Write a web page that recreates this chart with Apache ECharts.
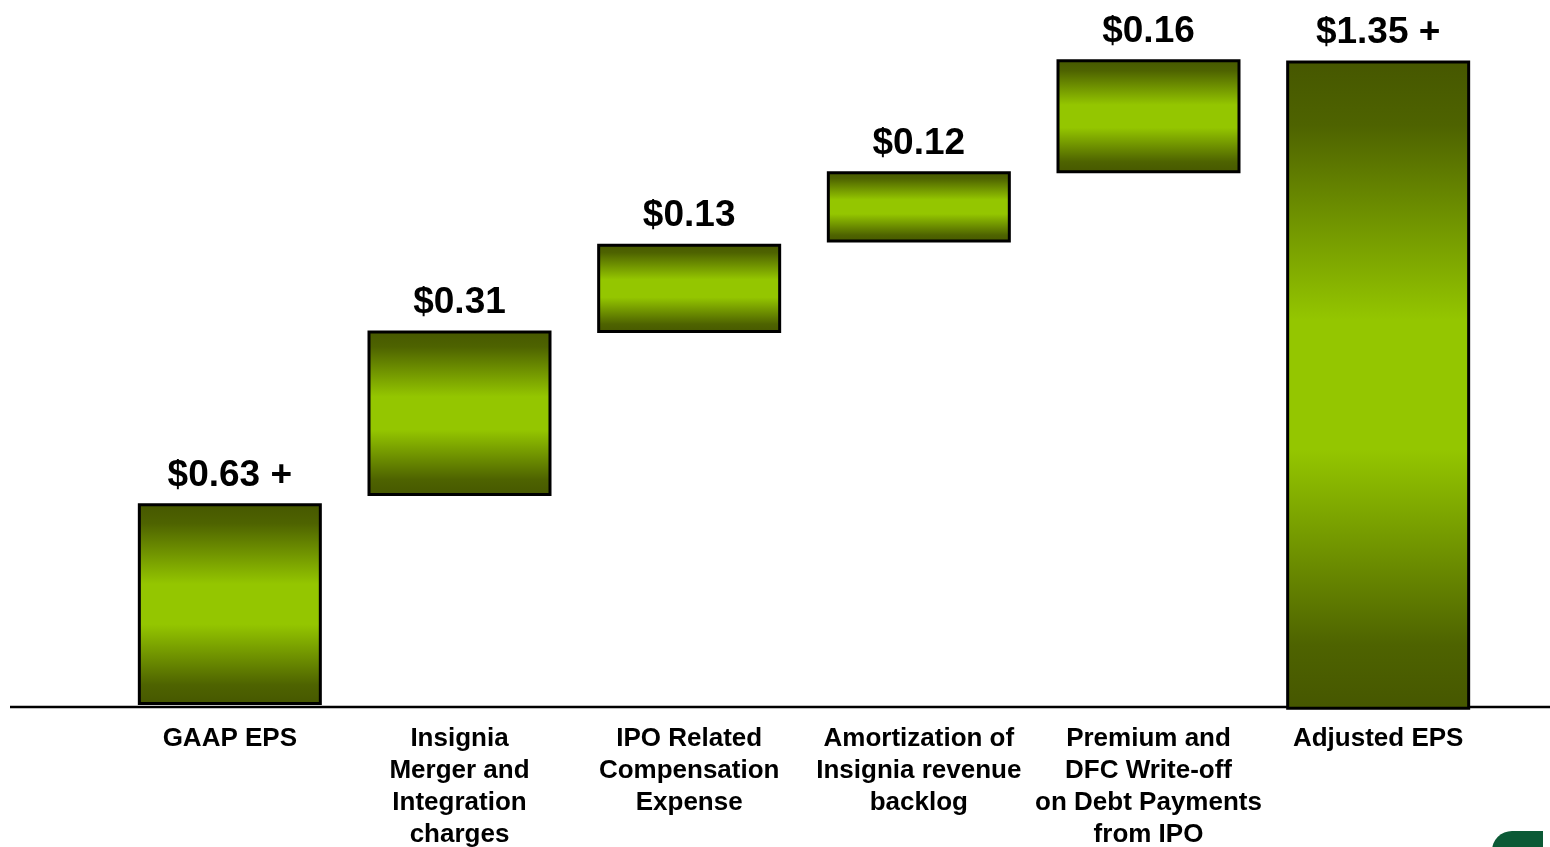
<!DOCTYPE html>
<html>
<head>
<meta charset="UTF-8">
<title>EPS bridge</title>
<style>
  html, body { margin: 0; padding: 0; background: #fff; }
  #main { width: 1550px; height: 847px; }
</style>
</head>
<body>
<div id="main"></div>
<script src="https://cdn.jsdelivr.net/npm/echarts@6/dist/echarts.min.js"></script>
<script>
// categories (axis labels)
var categories = [
  'GAAP EPS',
  'Insignia\nMerger and\nIntegration\ncharges',
  'IPO Related\nCompensation\nExpense',
  'Amortization of\nInsignia revenue\nbacklog',
  'Premium and\nDFC Write-off\non Debt Payments\nfrom IPO',
  'Adjusted EPS'
];
// printed values
var valueLabels = ['$0.63 +', '$0.31', '$0.13', '$0.12', '$0.16', '$1.35 +'];
// drawn extents of each bar (the slide is not to scale), in % of chart height
var barLow  = [0.3, 32.6, 57.8, 71.8, 82.5, -0.4];
var barHigh = [31.5, 58.2, 71.6, 82.8, 100.1, 99.9];

var barSize = barHigh.map(function (h, i) { return +(h - barLow[i]).toFixed(2); });

var myChart = echarts.init(document.getElementById('main'));

var green = {
  type: 'linear', x: 0, y: 0, x2: 0, y2: 1,
  colorStops: [
    { offset: 0, color: '#465700' },
    { offset: 0.1, color: '#4e6300' },
    { offset: 0.4, color: '#94c600' },
    { offset: 0.6, color: '#94c600' },
    { offset: 0.9, color: '#4e6300' },
    { offset: 1, color: '#465700' }
  ]
};

myChart.setOption({
  animation: false,
  backgroundColor: '#fff',
  grid: { left: 115, right: 57, top: 53.5, bottom: 127, outerBoundsMode: 'none', containLabel: false },
  xAxis: {
    type: 'category',
    data: categories,
    axisLine: { show: false },
    axisTick: { show: false },
    axisLabel: {
      interval: 0,
      margin: 3,
      fontFamily: 'Liberation Sans, Arial, sans-serif',
      fontWeight: 'bold',
      fontSize: 26,
      lineHeight: 32,
      color: '#000',
      align: 'center'
    }
  },
  yAxis: {
    type: 'value',
    min: -2,
    max: 101,
    show: false,
    splitLine: { show: false }
  },
  series: [
    {
      name: 'base',
      type: 'bar',
      stack: 'bridge',
      stackStrategy: 'all',
      barWidth: 184,
      itemStyle: { color: 'transparent', borderColor: 'transparent' },
      silent: true,
      data: barLow
    },
    {
      name: 'step',
      type: 'bar',
      stack: 'bridge',
      stackStrategy: 'all',
      barWidth: 184,
      itemStyle: { color: green, borderColor: '#000', borderWidth: 3 },
      label: {
        show: true,
        position: 'top',
        distance: 9,
        fontFamily: 'Liberation Sans, Arial, sans-serif',
        fontWeight: 'bold',
        fontSize: 37,
        color: '#000',
        formatter: function (p) { return valueLabels[p.dataIndex]; }
      },
      data: barSize
    }
  ]
});

// baseline across the slide, and the corner of the logo
var y0 = myChart.convertToPixel({ yAxisIndex: 0 }, 0);
myChart.setOption({
  graphic: [
    {
      type: 'line',
      z: 1,
      shape: { x1: 10, y1: y0, x2: 1550, y2: y0 },
      style: { stroke: '#000', lineWidth: 2.5 }
    },
    {
      type: 'rect',
      shape: { x: 1492, y: 831, width: 51, height: 20, r: [22, 0, 0, 0] },
      style: { fill: '#0b5a36' }
    }
  ]
});
window.onresize = function () { myChart.resize(); };
</script>
</body>
</html>
